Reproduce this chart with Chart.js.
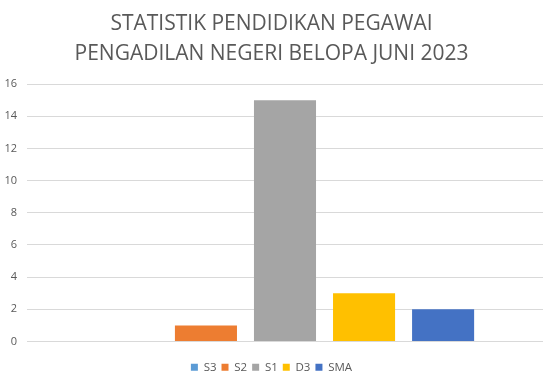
<!DOCTYPE html>
<html>
<head>
<meta charset="utf-8">
<script src="https://cdn.jsdelivr.net/npm/chart.js@4"></script>
<style>
  html, body { margin: 0; padding: 0; background: #fff; }
  #wrap { width: 557px; height: 385px; }
</style>
</head>
<body>
<div id="wrap"><canvas id="eduChart"></canvas></div>
<script>
// ---------------- DATA ----------------
const seriesNames = ["S3", "S2", "S1", "D3", "SMA"];
const seriesValues = [0, 1, 15, 3, 2];
const seriesColors = ["#5B9BD5", "#ED7D31", "#A5A5A5", "#FFC000", "#4472C4"];
const yTicks = [0, 2, 4, 6, 8, 10, 12, 14, 16];
const titleLines = ["STATISTIK PENDIDIKAN PEGAWAI", "PENGADILAN NEGERI BELOPA JUNI 2023"];

const textGrey = "#595959";
const fontFamily = "'Open Sans', sans-serif";

// ===================== EDUCATION BAR =====================
new Chart(document.getElementById("eduChart"), {
    type: "bar",
    data: {
        labels: [""],
        datasets: seriesNames.map((name, i) => ({
            label: name,
            data: [seriesValues[i]],
            backgroundColor: seriesColors[i],
            categoryPercentage: 0.766,
            barPercentage: 0.785
        }))
    },
    options: {
        responsive: true,
        maintainAspectRatio: false,
        animation: false,
        layout: { padding: { left: 0, right: 14, top: 0, bottom: 2 } },
        plugins: {
            title: {
                display: true,
                text: titleLines,
                color: textGrey,
                font: { family: fontFamily, size: 21, weight: "normal", lineHeight: 1.43 },
                padding: { top: 9, bottom: 15 }
            },
            legend: {
                position: "bottom",
                labels: {
                    boxWidth: 7,
                    boxHeight: 7,
                    padding: 5,
                    color: textGrey,
                    font: { family: fontFamily, size: 11.5 }
                }
            },
            tooltip: { enabled: false }
        },
        scales: {
            x: {
                grid: { display: false },
                border: { display: false },
                ticks: { display: false },
                afterFit: axis => { axis.height = 15; }
            },
            y: {
                min: 0,
                max: 16,
                afterBuildTicks: axis => { axis.ticks = yTicks.map(v => ({ value: v })); },
                afterFit: axis => { axis.width = 27; },
                border: { display: false },
                grid: { color: "#D9D9D9", drawTicks: false },
                ticks: {
                    padding: 10,
                    color: textGrey,
                    font: { family: fontFamily, size: 11 }
                }
            }
        }
    }
});
</script>
</body>
</html>
